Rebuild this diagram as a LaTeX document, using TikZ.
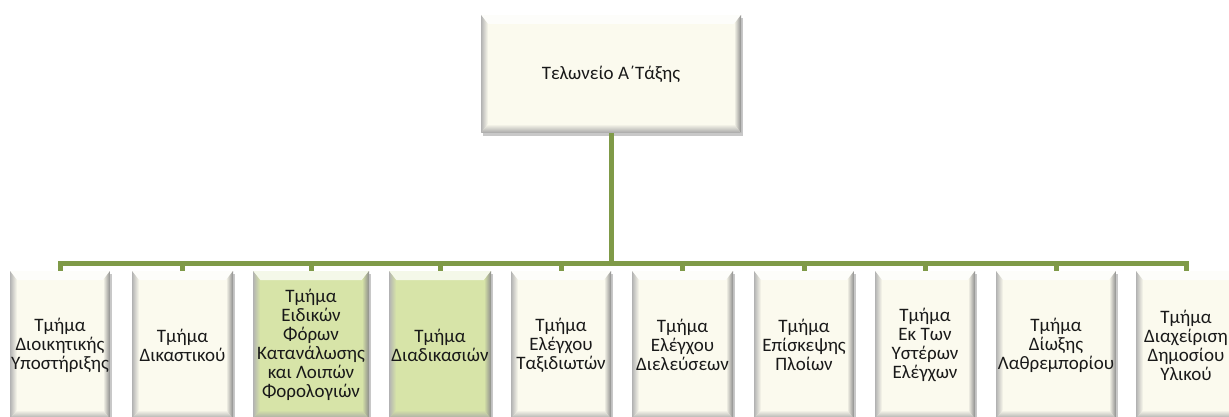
\documentclass[tikz,border=0pt]{standalone}
\usepackage{fontspec}
\setmainfont{Carlito}
\usetikzlibrary{shadows}
\definecolor{cream}{RGB}{251,250,238}
\definecolor{lgreen}{RGB}{215,228,168}
\definecolor{lineg}{RGB}{127,154,72}
\tikzset{
  bevel/.style={path picture={
    \fill[white,opacity=0.75] (path picture bounding box.north west) -- (path picture bounding box.north east)
      -- ([shift={(-7pt,-9pt)}]path picture bounding box.north east) -- ([shift={(7pt,-9pt)}]path picture bounding box.north west) -- cycle;
    \shade[left color=black!30, right color=#1] (path picture bounding box.north west) -- ([shift={(7pt,-9pt)}]path picture bounding box.north west)
      -- ([shift={(7pt,9pt)}]path picture bounding box.south west) -- (path picture bounding box.south west) -- cycle;
    \shade[left color=#1, right color=black!45] (path picture bounding box.north east) -- ([shift={(-7pt,-9pt)}]path picture bounding box.north east)
      -- ([shift={(-7pt,9pt)}]path picture bounding box.south east) -- (path picture bounding box.south east) -- cycle;
    \shade[top color=#1, bottom color=black!35] ([shift={(7pt,9pt)}]path picture bounding box.south west) -- ([shift={(-7pt,9pt)}]path picture bounding box.south east)
      -- (path picture bounding box.south east) -- (path picture bounding box.south west) -- cycle;
  }},
  orgbox/.style={fill=#1, bevel=#1, inner sep=0pt, align=center, text=black!90,
    font=\fontsize{19}{19}\selectfont,
    drop shadow={shadow xshift=2pt, shadow yshift=-3pt, opacity=0.3, fill=black!70}},
  conn/.style={draw=lineg, line width=5pt, line join=miter},
}
\begin{document}
\begin{tikzpicture}[x=1pt,y=-1pt]
\useasboundingbox (0,0) rectangle (1229,417);
\clip (0,0) rectangle (1229,417);
\fill[white] (0,0) rectangle (1229,417);
\node[orgbox=cream, minimum width=260pt, minimum height=118pt] (top) at (611,74) {Τελωνείο Α΄Τάξης};
\node[orgbox=cream, minimum width=100pt, minimum height=148pt] (b1) at (60,345) {Τμήμα\\Διοικητικής\\Υποστήριξης};
\node[orgbox=cream, minimum width=101pt, minimum height=148pt] (b2) at (182.5,345) {Τμήμα\\Δικαστικού};
\node[orgbox=lgreen, minimum width=116pt, minimum height=148pt] (b3) at (311,345) {Τμήμα\\Ειδικών\\Φόρων\\Κατανάλωσης\\και Λοιπών\\Φορολογιών};
\node[orgbox=lgreen, minimum width=102pt, minimum height=148pt] (b4) at (440,345) {Τμήμα\\Διαδικασιών};
\node[orgbox=cream, minimum width=100pt, minimum height=148pt] (b5) at (561,345) {Τμήμα\\Ελέγχου\\Ταξιδιωτών};
\node[orgbox=cream, minimum width=101pt, minimum height=148pt] (b6) at (682.5,345) {Τμήμα\\Ελέγχου\\Διελεύσεων};
\node[orgbox=cream, minimum width=100pt, minimum height=148pt] (b7) at (804,345) {Τμήμα\\Επίσκεψης\\Πλοίων};
\node[orgbox=cream, minimum width=100pt, minimum height=148pt] (b8) at (925,345) {Τμήμα\\Εκ Των\\Υστέρων\\Ελέγχων};
\node[orgbox=cream, minimum width=120pt, minimum height=148pt] (b9) at (1056,345) {Τμήμα\\Δίωξης\\Λαθρεμπορίου};
\node[orgbox=cream, minimum width=100pt, minimum height=148pt] (b10) at (1186,345) {Τμήμα\\Διαχείριση\\Δημοσίου\\Υλικού};
\coordinate (bus) at (611,263);
\draw[conn] (top.south) -- (bus);
\draw[conn] (b1.north) -- (b1.north |- bus) -- (b10.north |- bus) -- (b10.north);
\foreach \n in {b2,b3,b4,b5,b6,b7,b8,b9} {
  \draw[conn] (\n.north) -- (\n.north |- bus);
}
\end{tikzpicture}
\end{document}
